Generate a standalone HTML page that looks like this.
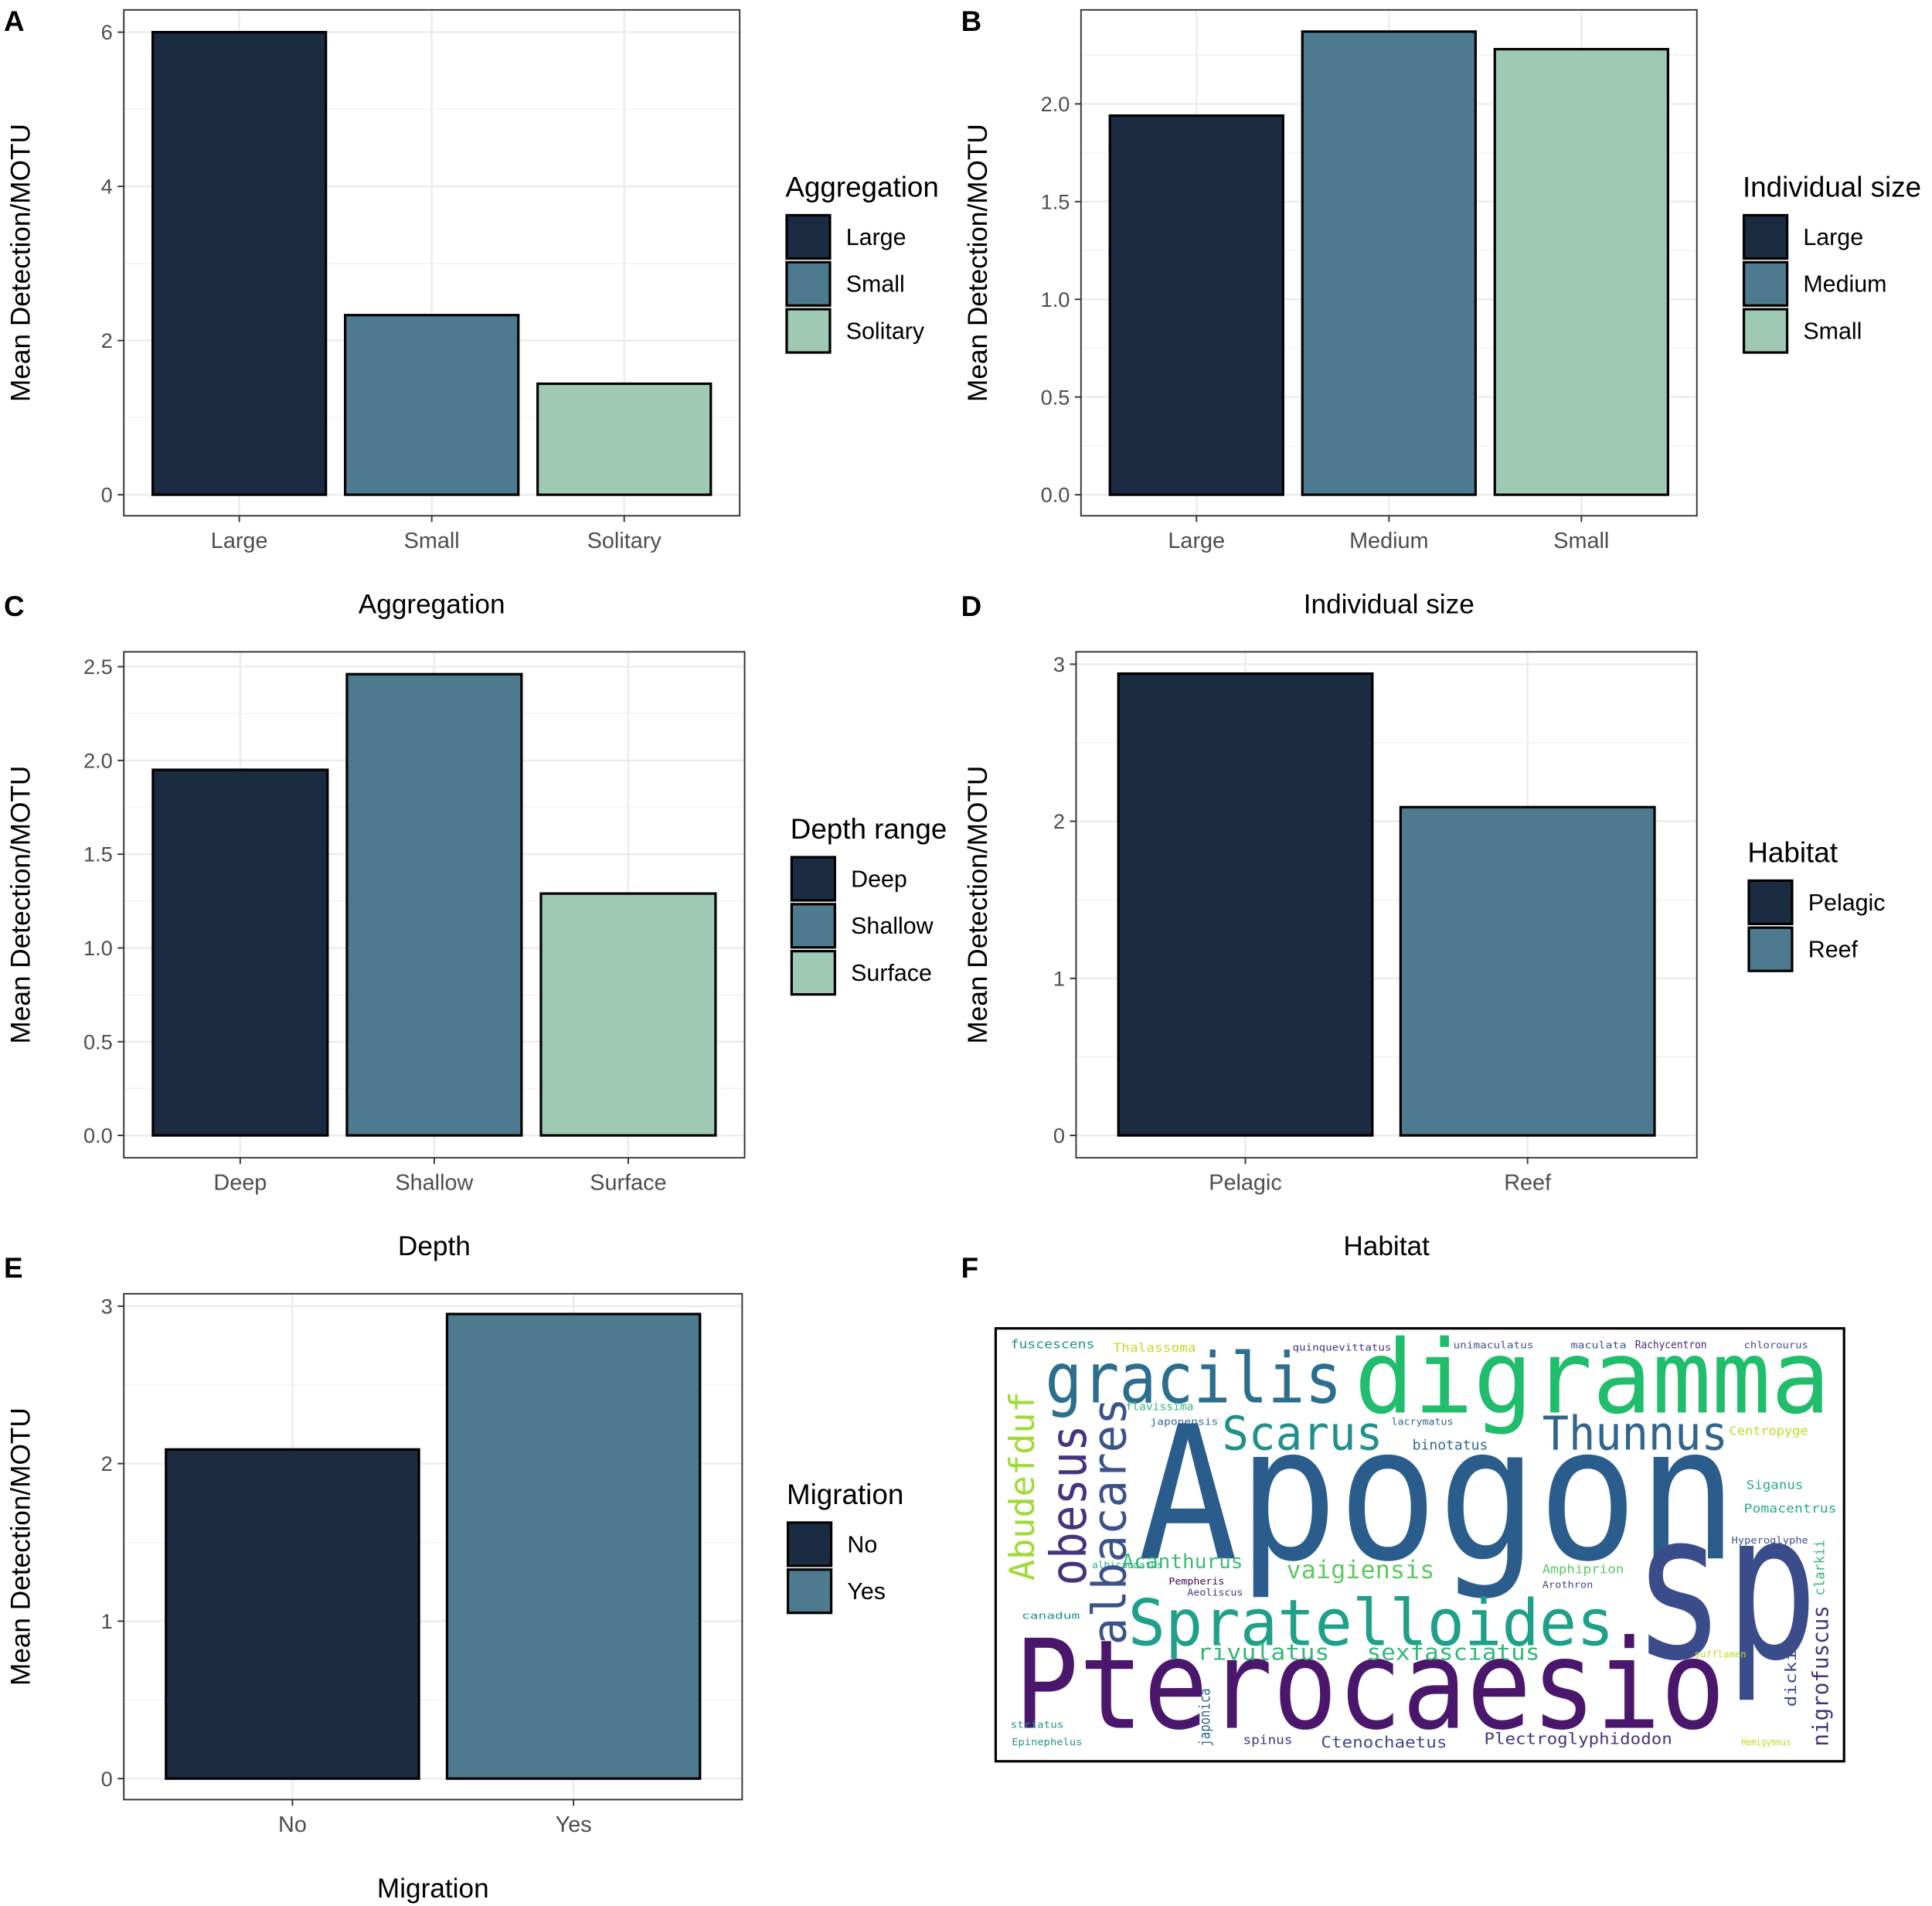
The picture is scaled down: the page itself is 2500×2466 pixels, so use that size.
<!DOCTYPE html>
<html><head><meta charset="utf-8">
<style>
html,body{margin:0;padding:0;background:#fff;}
svg{display:block;}
text{font-family:"Liberation Sans",Arial,sans-serif;}
.wc{font-family:"DejaVu Sans Mono","Liberation Mono",monospace;}
</style></head>
<body>
<svg id="fig" width="2500" height="2466" viewBox="0 0 1562 1541" xmlns="http://www.w3.org/2000/svg">
<g id="charts"></g>
<g id="cloud">
<rect x="805" y="1074" width="686" height="350" fill="#fff" stroke="#000" stroke-width="2"/>
</g>
</svg>
<script>
const NS="http://www.w3.org/2000/svg";
const C1="#1b2b42",C2="#4d7a8f",C3="#9fc9b5";
// ---- data ----
const catsA=["Large","Small","Solitary"];
const valsA=[6.0,2.33,1.44];
const ticksA=[0,2,4,6];
const catsB=["Large","Medium","Small"];
const valsB=[1.94,2.37,2.28];
const ticksB=["0.0","0.5","1.0","1.5","2.0"];
const catsC=["Deep","Shallow","Surface"];
const valsC=[1.95,2.46,1.29];
const ticksC=["0.0","0.5","1.0","1.5","2.0","2.5"];
const catsD=["Pelagic","Reef"];
const valsD=[2.94,2.09];
const ticksD=[0,1,2,3];
const catsE=["No","Yes"];
const valsE=[2.09,2.95];
const ticksE=[0,1,2,3];

function el(tag,attrs,parent,txt){const e=document.createElementNS(NS,tag);for(const k in attrs)e.setAttribute(k,attrs[k]);if(txt!==undefined)e.textContent=txt;(parent||document.getElementById('charts')).appendChild(e);return e;}

function panel(p){
  const g=el('g',{});
  
  
  const tv=p.ticks.map(Number);
  const tmax=tv[tv.length-1];
  const y=v=>p.y0-(v/tmax)*(p.y0-p.yTop);
  const n=p.cats.length;
  const step=(p.x1-p.x0)/(n-1+1.2);
  const bw=step*0.9;
  const cx=i=>p.x0+step*(i+0.6);
  el('rect',{x:p.x0,y:p.y1,width:p.x1-p.x0,height:p.y2-p.y1,fill:'#fff'},g);
  for(let i=0;i<tv.length-1;i++){const v=(tv[i]+tv[i+1])/2;el('line',{x1:p.x0,x2:p.x1,y1:y(v),y2:y(v),stroke:'#f2f2f2','stroke-width':1},g);}
  {const v=tmax+(tv[1]-tv[0])/2;if(y(v)>p.y1)el('line',{x1:p.x0,x2:p.x1,y1:y(v),y2:y(v),stroke:'#f2f2f2','stroke-width':1},g);}
  tv.forEach((v,i)=>{
    const ln=el('line',{x1:p.x0,x2:p.x1,y1:y(v),y2:y(v),stroke:'#ebebeb','stroke-width':1.5},g);
    
    el('line',{x1:p.x0-5,x2:p.x0,y1:y(v),y2:y(v),stroke:'#333','stroke-width':1.2},g);
    const t=el('text',{x:p.x0-9,y:y(v)+6,'text-anchor':'end','font-size':17,fill:'#4d4d4d'},g,p.ticks[i]);
    
  });
  p.cats.forEach((c,i)=>el('line',{x1:cx(i),x2:cx(i),y1:p.y1,y2:p.y2,stroke:'#ebebeb','stroke-width':1.5},g));
  p.vals.forEach((v,i)=>{
    const r=el('rect',{x:cx(i)-bw/2,y:y(v),width:bw,height:y(0)-y(v),fill:p.cols[i],stroke:'#000','stroke-width':2},g);
    
  });
  el('rect',{x:p.x0,y:p.y1,width:p.x1-p.x0,height:p.y2-p.y1,fill:'none',stroke:'#333','stroke-width':1.2},g);
  p.cats.forEach((c,i)=>{
    el('line',{x1:cx(i),x2:cx(i),y1:p.y2,y2:p.y2+5,stroke:'#333','stroke-width':1.2},g);
    const t=el('text',{x:cx(i),y:p.y2+26,'text-anchor':'middle','font-size':18,fill:'#4d4d4d'},g,c);
    
  });
  const xt=el('text',{x:(p.x0+p.x1)/2,y:p.y2+79,'text-anchor':'middle','font-size':22,fill:'#000'},g,p.xTitle);
  
  const ytx=p.lx+8, yty=(p.y1+p.y2)/2;
  const yt=el('text',{x:ytx,y:yty,'text-anchor':'middle','font-size':22,fill:'#000',transform:`rotate(-90 ${ytx} ${yty})`,dy:8},g,'Mean Detection/MOTU');
  
  const lt=el('text',{x:p.legX-1,y:p.legY,'font-size':23,fill:'#000'},g,p.legTitle);
  
  p.cats.forEach((c,i)=>{
    const ky=p.legY+15+i*38;
    const k=el('rect',{x:p.legX,y:ky,width:35,height:35,fill:p.cols[i],stroke:'#000','stroke-width':2},g);
    
    const lb=el('text',{x:p.legX+48,y:ky+24,'font-size':19,fill:'#000'},g,c);
    
  });
  const tg=el('text',{x:p.lx-5,y:p.tagY,'font-size':23,'font-weight':'bold',fill:'#000'},g,p.id);
  
}
panel({id:'A',cats:catsA,vals:valsA,ticks:ticksA,cols:[C1,C2,C3],x0:100,x1:598,y1:8,y2:417,y0:400,yTop:26,xTitle:'Aggregation',legTitle:'Aggregation',legX:636,legY:159,lx:8,tagY:25});
panel({id:'B',cats:catsB,vals:valsB,ticks:ticksB,cols:[C1,C2,C3],x0:874,x1:1372,y1:8,y2:417,y0:400,yTop:84,xTitle:'Individual size',legTitle:'Individual size',legX:1410,legY:159,lx:782,tagY:25});
panel({id:'C',cats:catsC,vals:valsC,ticks:ticksC,cols:[C1,C2,C3],x0:100,x1:602,y1:527,y2:936,y0:918,yTop:539,xTitle:'Depth',legTitle:'Depth range',legX:640,legY:678,lx:8,tagY:498});
panel({id:'D',cats:catsD,vals:valsD,ticks:ticksD,cols:[C1,C2],x0:870,x1:1372,y1:527,y2:936,y0:918,yTop:537,xTitle:'Habitat',legTitle:'Habitat',legX:1414,legY:697,lx:782,tagY:498});
panel({id:'E',cats:catsE,vals:valsE,ticks:ticksE,cols:[C1,C2],x0:100,x1:600,y1:1046,y2:1455,y0:1438,yTop:1056,xTitle:'Migration',legTitle:'Migration',legX:637,legY:1216,lx:8,tagY:1033});
{const t=el('text',{x:777,y:1033,'font-size':23,'font-weight':'bold',fill:'#000'},null,'F');}

// ---- word cloud ----
const words=[
["Apogon",920,1260,1405,150,"#2b5d8c",0],
["sp",1320,1340,1470,165,"#3a4c8a",0],
["Pterocaesio",820,1397,1395,100,"#4a176d",0],
["digramma",1095,1142,1480,82,"#20bd6c",0],
["gracilis",845,1134,1085,56,"#2c6e8e",0],
["Spratelloides",912,1330,1305,52,"#1fa088",0],
["Scarus",988,1172,1118,38,"#21908c",0],
["Thunnus",1247,1172,1397,38,"#31658e",0],
["Acanthurus",907,1268,1005,16,"#3cbb75",0],
["vaigiensis",1040,1276,1160,20,"#5ec962",0],
["rivulatus",968,1342,1075,18,"#35b779",0],
["sexfasciatus",1105,1342,1245,18,"#35b779",0],
["Ctenochaetus",1068,1413,1170,13,"#3e4a89",0],
["Plectroglyphidodon",1200,1410,1352,13,"#46337e",0],
["fuscescens",817,1090,885,10,"#21918c",0],
["Thalassoma",900,1093,967,10,"#bddf26",0],
["quinquevittatus",1045,1092,1125,8,"#46337e",0],
["unimaculatus",1175,1090,1240,8,"#3b528b",0],
["maculata",1270,1090,1315,8,"#3b528b",0],
["Rachycentron",1322,1090,1380,9,"#482878",0],
["chlorourus",1410,1090,1462,8,"#3b528b",0],
["flavissima",910,1140,965,9,"#35b779",0],
["japonensis",930,1152,985,8,"#31688e",0],
["lacrymatus",1125,1152,1175,8,"#31688e",0],
["binotatus",1142,1172,1203,11,"#31688e",0],
["Centropyge",1398,1160,1462,10,"#b5de2b",0],
["Siganus",1412,1204,1458,10,"#26ad81",0],
["Pomacentrus",1410,1223,1485,10,"#26ad81",0],
["Hyperoglyphe",1400,1248,1462,8,"#3b528b",0],
["Amphiprion",1247,1272,1313,10,"#5ec962",0],
["Arothron",1247,1284,1288,8,"#3e4a89",0],
["canadum",826,1309,873,8,"#21918c",0],
["Pempheris",945,1281,990,8,"#440154",0],
["Aeoliscus",960,1290,1005,8,"#443983",0],
["spinus",1005,1410,1045,10,"#46337e",0],
["Epinephelus",818,1411,875,8,"#21918c",0],
["striatus",817,1397,860,8,"#21918c",0],
["Hemigymnus",1408,1411,1448,8,"#bddf26",0],
["sufflamen",1370,1340,1412,8,"#bddf26",0],
["albicaudatus",883,1268,940,8,"#26ad81",0]
];
const vwords=[
["obesus",878,1282,1152,40,"#46337e"],
["albacares",910,1330,1130,38,"#3b528b"],
["Abudefduf",836,1278,1125,28,"#a0da39"],
["nigrofuscus",1478,1412,1298,18,"#46337e"],
["dickii",1452,1380,1325,12,"#3e4a89"],
["clarkii",1475,1290,1245,11,"#35b779"],
["japonica",978,1412,1365,12,"#31688e"]
];
const cg=document.getElementById('cloud');
words.forEach(w=>{
  const t=el('text',{x:w[1],y:w[2],'font-size':w[4],fill:w[5],class:'wc',textLength:w[3]-w[1],lengthAdjust:'spacingAndGlyphs'},cg,w[0]);
  
  
});
vwords.forEach(w=>{
  const t=el('text',{x:0,y:0,'font-size':w[4],fill:w[5],class:'wc',textLength:w[2]-w[3],lengthAdjust:'spacingAndGlyphs',transform:`translate(${w[1]} ${w[2]}) rotate(-90)`},cg,w[0]);
  
  
});
</script>
</body></html>
